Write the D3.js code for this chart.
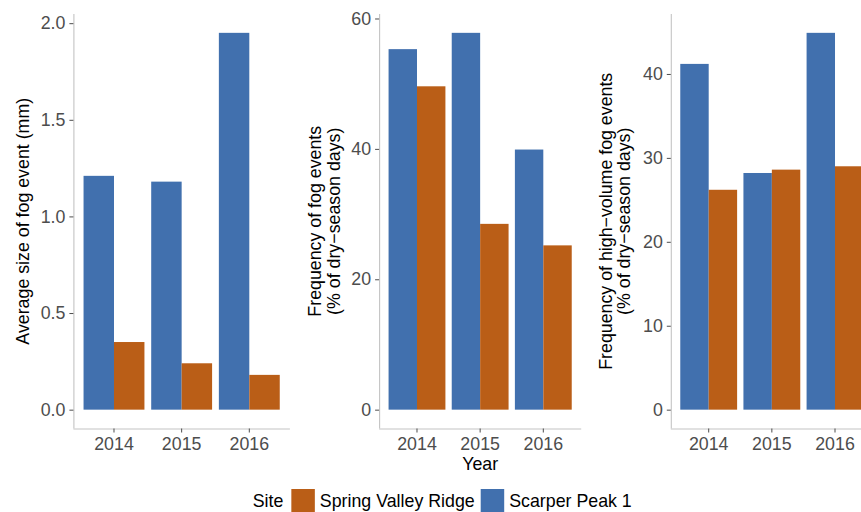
<!DOCTYPE html>
<html>
<head>
<meta charset="utf-8">
<script src="https://cdn.jsdelivr.net/npm/d3@7"></script>
<style>
  html, body { margin: 0; padding: 0; background: #ffffff; }
  svg { display: block; }
  text { font-family: "Liberation Sans", Arial, Helvetica, sans-serif; }
</style>
</head>
<body>
<svg id="chart" width="861" height="512"></svg>
<script>
// Fog data by year and site
const years = ["2014", "2015", "2016"];
const sites = ["Scarper Peak 1", "Spring Valley Ridge"];
const legendOrder = ["Spring Valley Ridge", "Scarper Peak 1"];
const siteColors = ["#4170ae", "#ba5e17"];

// Average size of fog event (mm)
const avgSizeScarper = [1.21, 1.18, 1.95];
const avgSizeSpring  = [0.35, 0.24, 0.18];
// Frequency of fog events (% of dry-season days)
const freqScarper = [55.3, 57.8, 39.9];
const freqSpring  = [49.6, 28.5, 25.2];
// Frequency of high-volume fog events (% of dry-season days)
const highScarper = [41.2, 28.2, 44.9];
const highSpring  = [26.2, 28.6, 29.0];

const ticks1 = [0, 0.5, 1.0, 1.5, 2.0];
const ticks2 = [0, 20, 40, 60];
const ticks3 = [0, 10, 20, 30, 40];

const panels = [
  { left: 73.4, right: 289.9, values: [avgSizeScarper, avgSizeSpring], ticks: ticks1, fmt: d3.format(".1f"),
    title: ["Average size of fog event (mm)"], titleX: [28.5] },
  { left: 379.1, right: 581.2, values: [freqScarper, freqSpring], ticks: ticks2, fmt: d3.format("d"),
    title: ["Frequency of fog events", "(% of dry\u2212season days)"], titleX: [321, 339.5] },
  { left: 670.8, right: 872.9, values: [highScarper, highSpring], ticks: ticks3, fmt: d3.format("d"),
    title: ["Frequency of high\u2212volume fog events", "(% of dry\u2212season days)"], titleX: [611.5, 630] }
];

const plotTop = 14, plotBottom = 428.5;
const fontSize = 17.8;
const axisColor = "#c4c4c4";
const tickColor = "#4d4d4d";
const labelColor = "#4d4d4d";

const color = d3.scaleOrdinal().domain(sites).range(siteColors);
const svg = d3.select("#chart");

panels.forEach(p => {
  const maxV = d3.max(p.values.flat());
  const y = d3.scaleLinear()
    .domain([-0.05 * maxV, 1.05 * maxV])
    .range([plotBottom, plotTop]);
  const x = d3.scaleBand()
    .domain(years)
    .range([p.left, p.right])
    .paddingInner(0.1)
    .paddingOuter(0.15);
  const xSite = d3.scaleBand()
    .domain(sites)
    .range([0, x.bandwidth()]);

  const g = svg.append("g");

  // bars
  const rows = [];
  years.forEach((yr, i) => sites.forEach((s, j) => rows.push({ year: yr, site: s, value: p.values[j][i] })));
  g.selectAll("rect.bar")
    .data(rows)
    .join("rect")
    .attr("class", "bar")
    .attr("x", d => x(d.year) + xSite(d.site))
    .attr("width", xSite.bandwidth())
    .attr("y", d => y(d.value))
    .attr("height", d => y(0) - y(d.value))
    .attr("fill", d => color(d.site));

  // y axis
  const yAxis = g.append("g")
    .attr("transform", `translate(${p.left},0)`)
    .call(d3.axisLeft(y).tickValues(p.ticks).tickFormat(p.fmt).tickSize(4).tickPadding(4));
  yAxis.select(".domain").attr("d", `M0.5,${plotTop}V${plotBottom}`).attr("stroke", axisColor).attr("stroke-width", 1.1);
  yAxis.selectAll(".tick line").attr("stroke", tickColor).attr("stroke-width", 1);
  yAxis.selectAll(".tick text").attr("fill", labelColor).style("font-size", fontSize + "px");

  // x axis
  const xAxis = g.append("g")
    .attr("transform", `translate(0,${plotBottom})`)
    .call(d3.axisBottom(x).tickSize(4).tickPadding(5));
  xAxis.select(".domain").attr("d", `M${p.left},0.5H${p.right}`).attr("stroke", axisColor).attr("stroke-width", 1.1);
  xAxis.selectAll(".tick line").attr("stroke", tickColor).attr("stroke-width", 1);
  xAxis.selectAll(".tick text").attr("fill", labelColor).style("font-size", fontSize + "px");

  // y axis title (one or two lines)
  const cy = (plotTop + plotBottom) / 2;
  p.title.forEach((t, k) => {
    svg.append("text")
      .attr("transform", `translate(${p.titleX[k]},${cy}) rotate(-90)`)
      .attr("text-anchor", "middle")
      .attr("fill", "#000")
      .style("font-size", fontSize + "px")
      .text(t);
  });
});

// shared x axis title
svg.append("text")
  .attr("x", (panels[1].left + panels[1].right) / 2)
  .attr("y", 470)
  .attr("text-anchor", "middle")
  .attr("fill", "#000")
  .style("font-size", fontSize + "px")
  .text("Year");

// legend
const legend = svg.append("g");
const keySize = 23.5;
const baseY = 506.5;
let cx = 252.7;
const title = legend.append("text")
  .attr("x", cx).attr("y", baseY)
  .attr("fill", "#000").style("font-size", fontSize + "px")
  .text("Site");
cx += title.node().getComputedTextLength() + 8;
legendOrder.forEach(s => {
  legend.append("rect")
    .attr("x", cx).attr("y", 489)
    .attr("width", keySize).attr("height", keySize)
    .attr("fill", color(s));
  cx += keySize + 5;
  const t = legend.append("text")
    .attr("x", cx).attr("y", baseY)
    .attr("fill", "#000").style("font-size", fontSize + "px")
    .text(s);
  cx += t.node().getComputedTextLength() + 6;
});
</script>
</body>
</html>
